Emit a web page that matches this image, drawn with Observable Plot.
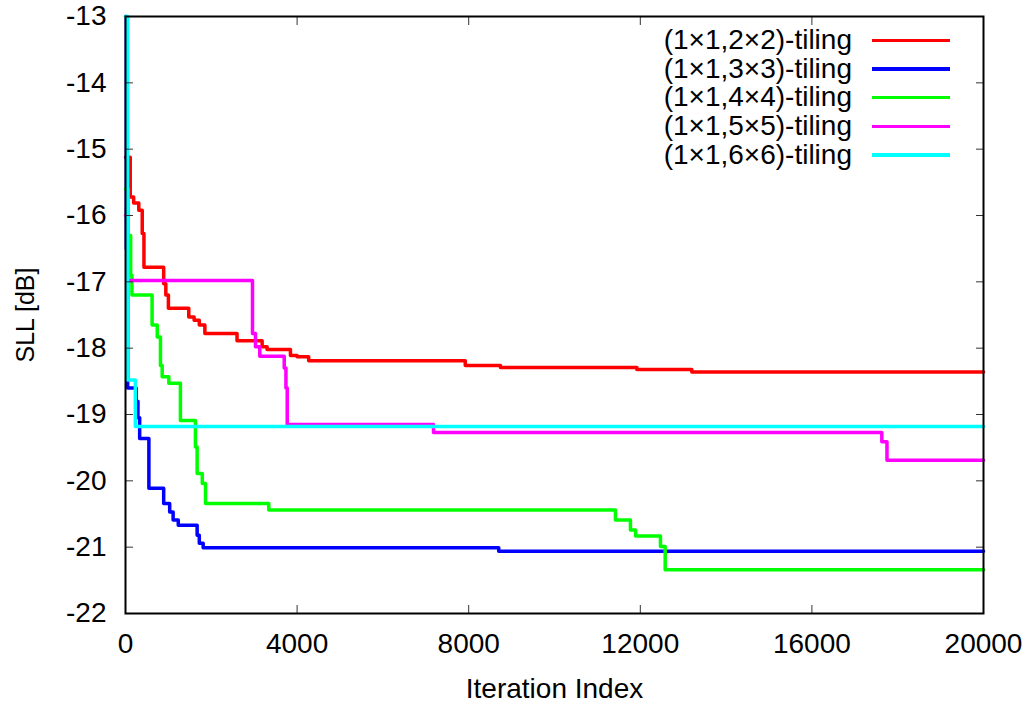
<!DOCTYPE html>
<html><head><meta charset="utf-8">
<script src="https://cdn.jsdelivr.net/npm/d3@7"></script>
<script src="https://cdn.jsdelivr.net/npm/@observablehq/plot@0.6"></script>
<style>
body{margin:0;background:#fff;font-family:"Liberation Sans",Arial,sans-serif;}
#wrap{position:relative;width:1033px;height:704px;}
#legend{position:absolute;left:560px;top:26px;width:390px;font-size:28px;color:#000;}
.row{display:flex;align-items:center;height:28.7px;}
.row span{flex:1;text-align:right;line-height:28.7px;white-space:nowrap;}
.row i{display:block;width:78px;height:3.5px;margin-left:20px;}
</style></head>
<body><div id="wrap"><div id="legend"></div></div>
<script>
const xTicks = [0, 4000, 8000, 12000, 16000, 20000];
const yTicks = [-22, -21, -20, -19, -18, -17, -16, -15, -14, -13];
const seriesNames = ["(1×1,2×2)-tiling", "(1×1,3×3)-tiling", "(1×1,4×4)-tiling", "(1×1,5×5)-tiling", "(1×1,6×6)-tiling"];
const seriesColors = ["#ff0000", "#0000ff", "#00ff00", "#ff00ff", "#00ffff"];

const redIter = [0, 110, 190, 310, 390, 430, 890, 940, 1000, 1475, 1600, 1720, 1850, 2600, 3185, 3300, 3845, 4000, 4270, 7920, 8740, 11920, 13200, 20000];
const redSLL  = [-15.12, -15.72, -15.81, -15.92, -16.27, -16.78, -17.03, -17.2, -17.40, -17.53, -17.58, -17.65, -17.78, -17.89, -17.98, -18.02, -18.11, -18.13, -18.19, -18.26, -18.29, -18.32, -18.36, -18.36];

const blueIter = [0, 20, 50, 250, 290, 330, 545, 890, 1030, 1110, 1230, 1670, 1720, 1810, 8700, 20000];
const blueSLL  = [-13.0, -16.5, -18.6, -18.8, -19.05, -19.36, -20.11, -20.34, -20.47, -20.59, -20.67, -20.82, -20.94, -21.01, -21.06, -21.06];

const greenIter = [0, 60, 120, 150, 620, 740, 815, 855, 1010, 1280, 1630, 1670, 1790, 1865, 3340, 11420, 11770, 11890, 12470, 12580, 20000];
const greenSLL  = [-15.6, -16.3, -16.9, -17.2, -17.65, -17.83, -18.26, -18.43, -18.53, -19.09, -19.49, -19.89, -20.04, -20.34, -20.44, -20.59, -20.74, -20.83, -20.99, -21.34, -21.34];

const magentaIter = [0, 30, 2960, 3030, 3130, 3700, 3740, 3770, 7180, 17630, 17750, 20000];
const magentaSLL  = [-16.0, -16.98, -17.78, -17.98, -18.12, -18.3, -18.6, -19.15, -19.27, -19.41, -19.69, -19.69];

const cyanIter = [0, 50, 230, 20000];
const cyanSLL  = [-13.0, -18.48, -19.18, -19.18];

const xLabel = "Iteration Index";
const yLabel = "SLL [dB]";

const iters = [redIter, blueIter, greenIter, magentaIter, cyanIter];
const slls = [redSLL, blueSLL, greenSLL, magentaSLL, cyanSLL];
const data = [];
seriesNames.forEach((name, k) => {
  iters[k].forEach((it, i) => data.push({series: name, iter: it, sll: slls[k][i]}));
});

const fmt = d => String(d);
const chart = Plot.plot({
  width: 1033, height: 704,
  marginLeft: 125, marginRight: 50, marginTop: 16, marginBottom: 91,
  style: {fontFamily: "'Liberation Sans', Arial, sans-serif", fontSize: "28px", color: "black", background: "white", overflow: "visible"},
  x: {domain: [0, 20000]},
  y: {domain: [-22, -13]},
  color: {domain: seriesNames, range: seriesColors},
  marks: [
    Plot.line(data, {x: "iter", y: "sll", z: "series", stroke: "series", curve: "step-after", strokeWidth: 3.5}),
    Plot.axisX({ticks: xTicks, anchor: "bottom", tickSize: 8, dy: -8, tickFormat: () => "", label: null, stroke: "#333"}),
    Plot.axisX({ticks: xTicks, anchor: "top", tickSize: 8, dy: 8, tickFormat: () => "", label: null, stroke: "#333"}),
    Plot.axisY({ticks: yTicks, anchor: "left", tickSize: 8, dx: 8, tickFormat: () => "", label: null, stroke: "#333"}),
    Plot.axisY({ticks: yTicks, anchor: "right", tickSize: 8, dx: -8, tickFormat: () => "", label: null, stroke: "#333"}),
    Plot.axisX({ticks: xTicks, anchor: "bottom", tickSize: 0, tickPadding: 20, tickFormat: fmt,
      label: xLabel, labelAnchor: "center", labelArrow: "none", labelOffset: 84}),
    Plot.axisY({ticks: yTicks, anchor: "left", tickSize: 0, tickPadding: 19, tickFormat: fmt, label: null}),
    Plot.text([yLabel], {text: d => d, frameAnchor: "left", textAnchor: "middle", lineAnchor: "middle", rotate: -90, dx: -100, fontSize: 25, fill: "black"}),
    Plot.frame({stroke: "black", strokeWidth: 2})
  ]
});
document.getElementById("wrap").insertBefore(chart, document.getElementById("legend"));

const legend = document.getElementById("legend");
seriesNames.forEach((name, k) => {
  const row = document.createElement("div");
  row.className = "row";
  const s = document.createElement("span");
  s.textContent = name;
  const ln = document.createElement("i");
  ln.style.background = seriesColors[k];
  row.appendChild(s); row.appendChild(ln);
  legend.appendChild(row);
});
</script></body></html>
